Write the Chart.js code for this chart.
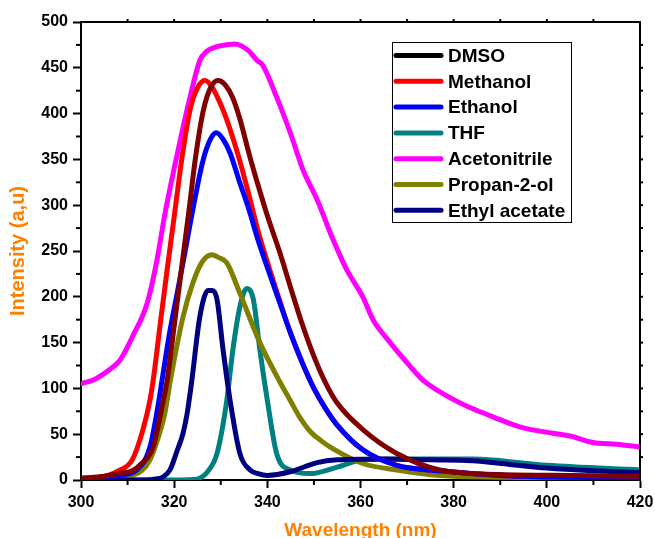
<!DOCTYPE html>
<html><head><meta charset="utf-8">
<script src="https://cdn.jsdelivr.net/npm/chart.js@4/dist/chart.umd.min.js"></script>
<style>html,body{margin:0;padding:0;background:#fff;} canvas{display:block;}</style>
</head><body>
<canvas id="c" width="655" height="538"></canvas>
<script>
// ---- data ----
const seriesNames = ['DMSO','Methanol','Ethanol','THF','Acetonitrile','Propan-2-ol','Ethyl acetate'];
const xTicks = [300,320,340,360,380,400,420];
const yTicks = [0,50,100,150,200,250,300,350,400,450,500];

const dmsoWl  = [300,305,308,311,313,315.5,317.4,318.5,320,321.5,323.2,324.5,326.2,327.8,329.4,331,332.5,334,336.3,338,340.1,342.7,345,347.5,350,352.5,355,360.5,367.8,377,390,405,420];
const dmsoInt = [2,4,7,10,18,36,80,109,168,228,295,349,402,428,436,431,418,396,352,322,287,248,210,170,135,106,84,55,29,11,6,5,4];

const methWl  = [300,304,308,311,313.3,314.8,315.5,317,318.5,320.2,321.6,323.4,325,326.6,328,330.5,332,334,336,338,340,342.7,345,347.5,350,352.5,355,360.5,367.8,377,390,405,420];
const methInt = [2,3,10,22,55,87,109,170,230,295,349,404,428,436,430,404,383,350,312,272,238,195,160,128,100,78,60,33,16,10,5,3,2];

const ethWl  = [300,304,308,312,314.8,316.5,317.4,319,320.5,322,324,326.2,327.8,329,330.5,332,334,336,338,340,342.7,345,347.5,350,352.5,355,360.5,367.8,377,390,405,420];
const ethInt = [1,2,5,11,36,80,109,160,200,240,295,349,372,379,372,357,326,296,262,232,193,160,128,100,78,60,33,16,10,5,3,2];

const thfWl  = [300,320,324,325.5,327,329.2,331.3,332.6,334.1,335.6,337,338.4,340,342,344.9,349.2,355,360.5,368,384,400,420];
const thfInt = [0,0,0.5,2,8,29,87,142,189,209,197,142,87,29,11,7,14,22,23,23,16,11];

const acnWl  = [300,303,306,308.4,311.2,314.2,316.3,318,320,321.9,323.5,325.5,327,328.5,330,333,335.9,337.8,339,342,345,347.7,350.7,353.5,357.1,360.5,362.7,365.9,370,373.4,379.2,384,388.4,394.2,401.3,405,409.9,415,420];
const acnInt = [105,110,120,131,158,193,240,290,340,385,420,458,468,472,474,476,469,458,453,418,378,338,306,270,229,200,175,153,128,109,90,78,69,58,51,48,41,39,36];

const iprWl  = [300,305,310,313,314.8,316.3,318,319.3,321.9,324,326,328.1,329.5,331.3,334.1,338.4,342.7,344.9,347,349.2,351.5,353.5,360.5,367.8,377,390,405,420];
const iprInt = [1,2,4,10,22,42,73,112,178,215,238,246,243,237,204,150,107,87,68,53,43,36,18,11,5,3,2,1];

const etacWl  = [300,314,316,317.5,319.1,320.5,321.9,322.8,323.8,325.5,327.3,328.2,329.2,330.5,332,334.1,336.3,338,340,344.9,350.7,355,365,375,384,392,400,410,420];
const etacInt = [0,0,1,3,11,30,51,73,109,178,207,207,197,142,87,29,11,7,5,9,19,22,23,22,21,17,13,10,8];

// ---- build ----
const pts = (xs, ys) => xs.map((v, i) => ({x: v, y: ys[i]}));
const lineColors   = ['#800000','#ff0000','#0000ff','#008080','#ff00ff','#808000','#000080'];
const legendColors = ['#000000','#ff0000','#0000ff','#008080','#ff00ff','#808000','#000080'];
const drawOrder    = [0,2,1,5,6,4,3];
const allData = [pts(dmsoWl,dmsoInt), pts(methWl,methInt), pts(ethWl,ethInt), pts(thfWl,thfInt),
                 pts(acnWl,acnInt), pts(iprWl,iprInt), pts(etacWl,etacInt)];

const datasets = seriesNames.map((n, i) => ({
  label: n, data: allData[i], borderColor: lineColors[i], backgroundColor: lineColors[i],
  legendColor: legendColors[i], order: drawOrder[i],
  borderWidth: 5, pointRadius: 0, fill: false, tension: 0.4, cubicInterpolationMode: 'monotone',
  borderJoinStyle: 'round', borderCapStyle: 'round'
}));

const ORANGE = '#ff8000';

const decor = {
  id: 'decor',
  afterDraw(chart) {
    const {ctx, chartArea: a, scales: {x, y}} = chart;
    const seg = (x0, y0, x1, y1) => { ctx.beginPath(); ctx.moveTo(x0, y0); ctx.lineTo(x1, y1); ctx.stroke(); };
    ctx.save();
    ctx.strokeStyle = '#000';
    ctx.lineWidth = 2;
    seg(a.left - 1, a.top, a.right + 1, a.top);
    seg(a.right, a.top, a.right, a.bottom + 1);
    // minor ticks
    for (let v = 310; v < 420; v += 20) { const p = x.getPixelForValue(v); seg(p, a.bottom, p, a.bottom + 5); }
    for (let v = 25; v < 500; v += 50) { const p = y.getPixelForValue(v); seg(a.left - 5, p, a.left, p); }
    // top/right short ticks
    for (let v = 310; v < 420; v += 10) { const p = x.getPixelForValue(v); seg(p, a.top, p, a.top - 3); }
    for (let v = 25; v < 500; v += 25) { const p = y.getPixelForValue(v); seg(a.right, p, a.right + 3, p); }
    // legend
    const bx = 392, by = 42, bw = 179, bh = 180, row0 = 55.5, step = 25.8;
    ctx.lineWidth = 1;
    ctx.strokeRect(bx + 0.5, by + 0.5, bw, bh);
    ctx.font = 'bold 19px "Liberation Sans", Arial, sans-serif';
    ctx.textBaseline = 'middle';
    ctx.textAlign = 'left';
    chart.data.datasets.forEach((ds, i) => {
      const cy = row0 + i * step;
      ctx.strokeStyle = ds.legendColor;
      ctx.lineWidth = 5;
      ctx.lineCap = 'round';
      seg(396, cy, 441, cy);
      ctx.fillStyle = '#000';
      ctx.fillText(ds.label, 448, cy + 1);
    });
    ctx.restore();
  }
};

const tickFont = {family: '"Liberation Sans", Arial, sans-serif', size: 16, weight: 'bold'};

new Chart(document.getElementById('c'), {
  type: 'line',
  data: {datasets},
  options: {
    responsive: false, animation: false, devicePixelRatio: 1,
    layout: {padding: {top: 22, right: 15, left: 0, bottom: 0}},
    plugins: {legend: {display: false}, tooltip: {enabled: false}},
    scales: {
      x: {
        type: 'linear', min: 300, max: 420, position: 'bottom',
        afterBuildTicks: s => { s.ticks = xTicks.map(v => ({value: v})); },
        afterFit: s => { s.height = 58; s.paddingRight = 0; s.paddingLeft = 0; },
        ticks: {color: '#000', font: tickFont, padding: 5, maxRotation: 0, autoSkip: false},
        grid: {drawOnChartArea: false, drawTicks: true, tickLength: 8, tickColor: '#000', tickWidth: 2},
        border: {display: true, color: '#000', width: 2},
        title: {display: true, text: 'Wavelength (nm)', color: ORANGE,
                font: {family: '"Liberation Sans", Arial, sans-serif', size: 19, weight: 'bold'},
                padding: {top: 0, bottom: -4}}
      },
      y: {
        type: 'linear', min: 0, max: 500,
        afterBuildTicks: s => { s.ticks = yTicks.map(v => ({value: v})); },
        afterFit: s => { s.width = 81; s.paddingTop = 0; s.paddingBottom = 0; },
        ticks: {color: '#000', font: tickFont, padding: 5, autoSkip: false},
        grid: {drawOnChartArea: false, drawTicks: true, tickLength: 8, tickColor: '#000', tickWidth: 2},
        border: {display: true, color: '#000', width: 2},
        title: {display: true, text: 'Intensity (a,u)', color: ORANGE,
                font: {family: '"Liberation Sans", Arial, sans-serif', size: 20, weight: 'bold'},
                padding: {top: 6, bottom: 0}}
      }
    }
  },
  plugins: [decor]
});
</script>
</body></html>
